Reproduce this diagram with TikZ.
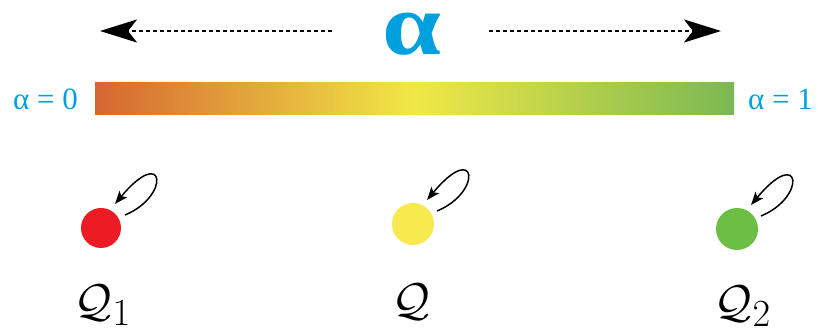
\documentclass[tikz,border=0pt]{standalone}
\usepackage{fontspec}
\newfontfamily\grk{Liberation Serif}
\usetikzlibrary{arrows.meta}
\definecolor{cyanA}{RGB}{0,160,223}
\definecolor{redQ}{RGB}{237,28,36}
\definecolor{yelQ}{RGB}{247,233,80}
\definecolor{grnQ}{RGB}{108,190,69}
\definecolor{barL}{RGB}{214,102,50}
\definecolor{barM}{RGB}{240,232,70}
\definecolor{barR}{RGB}{122,184,82}
\newcommand{\biglab}[1]{\scalebox{1.85}{\Huge$#1$}}
\tikzset{
  dotarrow/.style={line width=2.4pt, dash pattern=on 4pt off 3pt, -{Stealth[length=37pt,width=23pt,inset=9pt]}},
  ball/.style={circle, inner sep=0pt, minimum size=#1},
  loopar/.style={line width=1.5pt, -{Stealth[length=13pt,width=10pt,inset=3pt]}},
  qlab/.style={inner sep=0pt, anchor=base},
  alab/.style={inner sep=0pt, text=cyanA, font=\grk\fontsize{31}{31}\selectfont}
}
\begin{document}
\begin{tikzpicture}[x=1pt,y=1pt]
\useasboundingbox (0,0) rectangle (821,334);
% big alpha
\node[inner sep=0pt, anchor=base, text=cyanA, font=\grk\bfseries\fontsize{88}{88}\selectfont] (al) at (412,279) {\scalebox{1.2}[1]{α}};
\coordinate (ls) at (332,303);
\coordinate (le) at (100,303);
\coordinate (rs) at (489,303);
\coordinate (re) at (721,303);
\draw[dotarrow] (ls) -- (le);
\draw[dotarrow] (rs) -- (re);
% bar
\shade[left color=barL, right color=barR, middle color=barM] (95,219) rectangle (734,251);
\node[alab, anchor=base west] (a0) at (13,224) {α = 0};
\node[alab, anchor=base west] (a1) at (748,224) {α = 1};
% balls
\node[ball=40pt, fill=redQ] (r) at (101,106) {};
\node[ball=42pt, fill=yelQ] (y) at (413,110) {};
\node[ball=42pt, fill=grnQ] (g) at (737,105) {};
\foreach \n in {r,y,g}{
  \draw[loopar] ([shift={(24,13)}]\n.center) .. controls ([shift={(70,32)}]\n.center) and ([shift={(64,84)}]\n.center) .. ([shift={(14,24)}]\n.center);
}
% labels
\node[qlab] (q1) at (103,17) {\biglab{\mathcal{Q}_1}};
\node[qlab] (q) at (411,18) {\biglab{\mathcal{Q}}};
\node[qlab] (q2) at (743,16) {\biglab{\mathcal{Q}_2}};
\end{tikzpicture}
\end{document}
